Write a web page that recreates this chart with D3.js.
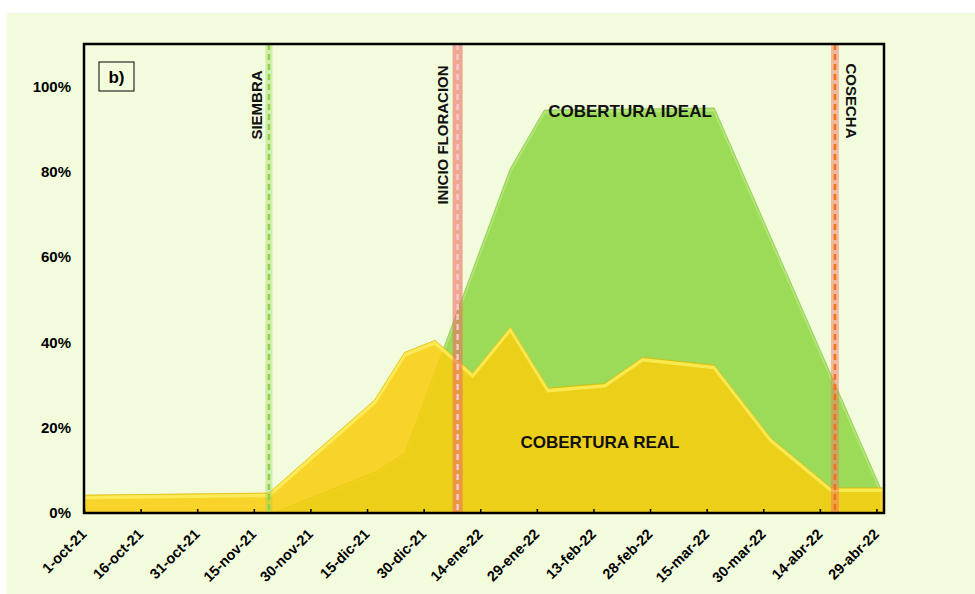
<!DOCTYPE html>
<html>
<head>
<meta charset="utf-8">
<script src="https://cdn.jsdelivr.net/npm/d3@7"></script>
<style>
    body { margin: 0; background: #fff; }
    svg { display: block; font-family: "Liberation Sans", Arial, sans-serif; font-weight: bold; }
</style>
</head>
<body>
<div id="chart"></div>
<script>
// x axis ticks (every 15 days)
const tickDates = ['2021-10-01', '2021-10-16', '2021-10-31', '2021-11-15', '2021-11-30', '2021-12-15',
    '2021-12-30', '2022-01-14', '2022-01-29', '2022-02-13', '2022-02-28', '2022-03-15',
    '2022-03-30', '2022-04-14', '2022-04-29'];
const tickLabels = ['1-oct-21', '16-oct-21', '31-oct-21', '15-nov-21', '30-nov-21', '15-dic-21',
    '30-dic-21', '14-ene-22', '29-ene-22', '13-feb-22', '28-feb-22', '15-mar-22',
    '30-mar-22', '14-abr-22', '29-abr-22'];
const yTicks = [0, 0.2, 0.4, 0.6, 0.8, 1.0];

// Cobertura real (yellow)
const realDates = ['2021-10-01', '2021-11-19', '2021-12-17', '2021-12-25', '2022-01-02', '2022-01-12',
    '2022-01-22', '2022-02-01', '2022-02-16', '2022-02-26', '2022-03-17', '2022-04-01',
    '2022-04-17', '2022-05-01'];
const realValues = [0.042, 0.047, 0.265, 0.377, 0.405, 0.328, 0.436, 0.293, 0.304, 0.365, 0.347, 0.176, 0.059, 0.059];

// Cobertura ideal (green)
const idealDates = ['2021-10-01', '2021-11-20', '2021-12-17', '2021-12-25', '2022-01-22', '2022-01-31',
    '2022-03-17', '2022-04-30'];
const idealValues = [0, 0, 0.096, 0.14, 0.808, 0.945, 0.95, 0.06];

// crop events
const eventDates = ['2021-11-19', '2022-01-08', '2022-04-18'];
const eventLabels = ['SIEMBRA', 'INICIO FLORACION', 'COSECHA'];

const W = 975, H = 594;
const margin = {top: 44, right: 91, bottom: 81, left: 84};
const parse = d3.timeParse('%Y-%m-%d');

const svg = d3.select('#chart').append('svg')
    .attr('width', W)
    .attr('height', H);

// panel background
svg.append('rect')
    .attr('x', 7).attr('y', 13)
    .attr('width', W - 7).attr('height', H - 13)
    .attr('fill', '#f2fcdc');

const x = d3.scaleTime()
    .domain([parse('2021-10-01'), parse('2022-05-01')])
    .range([margin.left, W - margin.right]);

const y = d3.scaleLinear()
    .domain([0, 1.1])
    .range([H - margin.bottom, margin.top]);

svg.append('clipPath').attr('id', 'plot-clip')
    .append('rect')
    .attr('x', margin.left).attr('y', margin.top)
    .attr('width', W - margin.left - margin.right)
    .attr('height', H - margin.top - margin.bottom);

const plot = svg.append('g').attr('clip-path', 'url(#plot-clip)');

const real = realDates.map((d, i) => ({date: parse(d), v: realValues[i]}));
const ideal = idealDates.map((d, i) => ({date: parse(d), v: idealValues[i]}));

const area = d3.area()
    .x(d => x(d.date))
    .y0(y(0))
    .y1(d => y(d.v));
const line = d3.line()
    .x(d => x(d.date))
    .y(d => y(d.v));

// green area (ideal)
plot.append('path')
    .datum(ideal)
    .attr('d', area)
    .attr('fill', '#9cdb58');
plot.append('path')
    .datum(ideal)
    .attr('d', line)
    .attr('transform', 'translate(0,2)')
    .attr('fill', 'none')
    .attr('stroke', '#c6f28c')
    .attr('stroke-width', 3)
    .attr('opacity', 0.5);
plot.append('path')
    .datum(ideal)
    .attr('d', line)
    .attr('fill', 'none')
    .attr('stroke', '#7fb848')
    .attr('stroke-width', 1)
    .attr('opacity', 0.6);

// yellow area (real), slightly transparent over the green
plot.append('path')
    .datum(real)
    .attr('d', area)
    .attr('fill', 'rgb(249,205,14)')
    .attr('opacity', 0.86);
plot.append('path')
    .datum(real)
    .attr('d', line)
    .attr('transform', 'translate(0,2.5)')
    .attr('fill', 'none')
    .attr('stroke', '#fff36a')
    .attr('stroke-width', 3.5)
    .attr('opacity', 0.7);
plot.append('path')
    .datum(real)
    .attr('d', line)
    .attr('fill', 'none')
    .attr('stroke', '#d6b400')
    .attr('stroke-width', 1)
    .attr('opacity', 0.6);

// event lines: translucent band + dashed line
const bandColors = ['rgba(146,208,80,0.35)', 'rgba(236,110,96,0.6)', 'rgba(240,120,100,0.5)'];
const bandWidths = [7, 10, 8];
const dashColors = ['#8fd04c', '#f6c8d0', '#f07318'];

eventDates.forEach((d, i) => {
    const ex = x(parse(d));
    plot.append('line')
        .attr('x1', ex).attr('x2', ex)
        .attr('y1', margin.top).attr('y2', y(0))
        .attr('stroke', bandColors[i])
        .attr('stroke-width', bandWidths[i]);
    plot.append('line')
        .attr('x1', ex).attr('x2', ex)
        .attr('y1', margin.top).attr('y2', y(0))
        .attr('stroke', dashColors[i])
        .attr('stroke-width', 2.5)
        .attr('stroke-dasharray', '6,4');
});

// event labels
const evLabelPos = [
    {dx: -7, cy: 105, rot: -90},
    {dx: -10, cy: 135, rot: -90},
    {dx: 11, cy: 101, rot: 90}
];
eventDates.forEach((d, i) => {
    const ex = x(parse(d)) + evLabelPos[i].dx;
    svg.append('text')
        .attr('transform', `translate(${ex},${evLabelPos[i].cy}) rotate(${evLabelPos[i].rot})`)
        .attr('text-anchor', 'middle')
        .attr('font-size', '15px')
        .attr('fill', '#111')
        .text(eventLabels[i]);
});

// series labels
svg.append('text')
    .attr('x', 630).attr('y', 117)
    .attr('text-anchor', 'middle')
    .attr('font-size', '17px')
    .attr('fill', '#111')
    .text('COBERTURA IDEAL');
svg.append('text')
    .attr('x', 600).attr('y', 448)
    .attr('text-anchor', 'middle')
    .attr('font-size', '17px')
    .attr('fill', '#111')
    .text('COBERTURA REAL');

// x axis
const xAxis = svg.append('g')
    .attr('transform', `translate(0,${y(0)})`)
    .call(d3.axisBottom(x)
        .tickValues(tickDates.map(parse))
        .tickSize(-4)
        .tickFormat((d, i) => tickLabels[i]));
xAxis.select('.domain').remove();
xAxis.selectAll('line').attr('stroke', '#000').attr('stroke-width', 1.5);
xAxis.selectAll('text')
    .attr('x', 0).attr('y', 0).attr('dy', 0)
    .attr('text-anchor', 'end')
    .attr('transform', 'translate(3,22) rotate(-45)')
    .attr('font-size', '14.5px')
    .attr('font-family', '"Liberation Sans", Arial, sans-serif')
    .attr('font-weight', 'bold')
    .attr('fill', '#000');

// y axis (labels only)
const yAxis = svg.append('g')
    .attr('transform', `translate(${margin.left},0)`)
    .call(d3.axisLeft(y)
        .tickValues(yTicks)
        .tickSize(0)
        .tickPadding(13)
        .tickFormat(d3.format('.0%')));
yAxis.select('.domain').remove();
yAxis.selectAll('text')
    .attr('font-size', '15px')
    .attr('font-family', '"Liberation Sans", Arial, sans-serif')
    .attr('font-weight', 'bold')
    .attr('fill', '#000');

// plot frame
svg.append('rect')
    .attr('x', margin.left).attr('y', margin.top)
    .attr('width', W - margin.left - margin.right)
    .attr('height', H - margin.top - margin.bottom)
    .attr('fill', 'none')
    .attr('stroke', '#000')
    .attr('stroke-width', 2.5);

// panel tag "b)"
svg.append('rect')
    .attr('x', 99).attr('y', 62)
    .attr('width', 35).attr('height', 29)
    .attr('fill', '#f2fcdc')
    .attr('stroke', '#000')
    .attr('stroke-width', 1);
svg.append('text')
    .attr('x', 116.5).attr('y', 83)
    .attr('text-anchor', 'middle')
    .attr('font-size', '17px')
    .attr('fill', '#000')
    .text('b)');
</script>
</body>
</html>
